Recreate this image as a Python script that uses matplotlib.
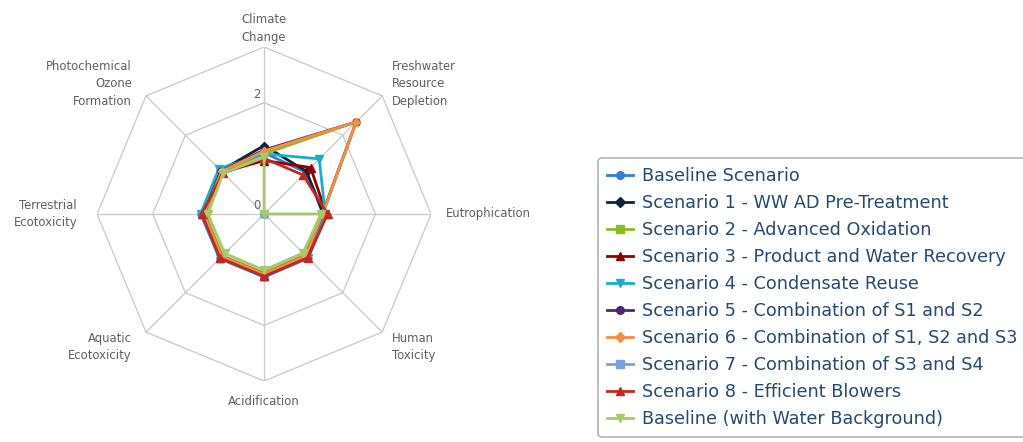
import matplotlib
matplotlib.use("Agg")
import matplotlib.pyplot as plt
from matplotlib.lines import Line2D
import numpy as np

# impact categories, clockwise from the top
categories = ["Climate\nChange", "Freshwater\nResource\nDepletion", "Eutrophication",
              "Human\nToxicity", "Acidification", "Aquatic\nEcotoxicity",
              "Terrestrial\nEcotoxicity", "Photochemical\nOzone\nFormation"]

series_names = ["Baseline Scenario",
                "Scenario 1 - WW AD Pre-Treatment",
                "Scenario 2 - Advanced Oxidation",
                "Scenario 3 - Product and Water Recovery",
                "Scenario 4 - Condensate Reuse",
                "Scenario 5 - Combination of S1 and S2",
                "Scenario 6 - Combination of S1, S2 and S3",
                "Scenario 7 - Combination of S3 and S4",
                "Scenario 8 - Efficient Blowers",
                "Baseline (with Water Background)"]

baseline   = [1.10, 1.06, 1.10, 1.12, 1.13, 1.13, 1.13, 1.13]
scenario_1 = [1.23, 1.08, 1.06, 1.08, 1.10, 1.10, 1.10, 1.10]
scenario_2 = [1.08, 2.34, 1.04, 1.04, 1.06, 1.06, 1.06, 1.07]
scenario_3 = [0.96, 1.18, 1.12, 1.10, 1.12, 1.12, 1.10, 1.06]
scenario_4 = [1.08, 1.40, 1.10, 1.12, 1.13, 1.13, 1.14, 1.15]
scenario_5 = [1.15, 2.34, 1.05, 1.06, 1.08, 1.08, 1.08, 1.09]
scenario_6 = [1.13, 2.34, 1.05, 1.06, 1.08, 1.08, 1.08, 1.08]
scenario_7 = [0, 0, 0, 0, 0, 0, 0, 0]
scenario_8 = [1.00, 0.99, 1.14, 1.11, 1.12, 1.12, 1.12, 1.04]
baseline_w = [1.02, 0.00, 1.02, 0.99, 1.01, 1.00, 1.01, 1.04]

values = [baseline, scenario_1, scenario_2, scenario_3, scenario_4,
          scenario_5, scenario_6, scenario_7, scenario_8, baseline_w]

colors = ["#2f7ed8", "#0d233a", "#8bbc21", "#910000", "#1aadce",
          "#492970", "#f28f43", "#77a1e5", "#c42525", "#a6c96a"]
markers = ["o", "D", "s", "^", "v", "o", "D", "s", "^", "v"]
msizes = [5, 4.2, 4.6, 5.4, 5.4, 5, 4.2, 4.6, 5.4, 5.4]

rmax = 3
rings = [2, 3]

n = len(categories)
angles = np.arange(n) * 2 * np.pi / n


def to_xy(r, a):
    r = np.asarray(r, dtype=float)
    return r * np.sin(a), r * np.cos(a)


fig = plt.figure(figsize=(10.23, 4.42), dpi=100)
ax = fig.add_axes([0.0949, 0.1380, 0.3265, 0.7557])
ax.set_xlim(-rmax, rmax)
ax.set_ylim(-rmax, rmax)
ax.axis("off")

grid_col = "#cccccc"
closed = np.append(angles, angles[0])
for r in rings:
    gx, gy = to_xy(np.full(len(closed), r), closed)
    ax.plot(gx, gy, color=grid_col, lw=1, zorder=1)
for a in angles:
    sx, sy = to_xy([0, rmax], a)
    ax.plot(sx, sy, color=grid_col, lw=1, zorder=1)

# radial tick labels
ax.annotate("0", (0, 0), xytext=(-3, 2), textcoords="offset pixels",
            ha="right", va="bottom", fontsize=8.5, color="#666666")
ax.annotate("2", (0, 2), xytext=(-3, 2), textcoords="offset pixels",
            ha="right", va="bottom", fontsize=8.5, color="#666666")

# category labels (offsets in pixels)
offsets = [(0, 3), (10, 12), (15, 0), (10, -15), (0, -20), (-14, -15), (-20, 0), (-14, 12)]
for i, (lab, a, off) in enumerate(zip(categories, angles, offsets)):
    x, y = to_xy(rmax, a)
    if off[0] > 0:
        ha = "left"
    elif off[0] < 0:
        ha = "right"
    else:
        ha = "center"
    va = "bottom" if i == 0 else "center"
    ax.annotate(lab, (x, y), xytext=off, textcoords="offset pixels",
                ha=ha, va=va, multialignment=ha, fontsize=8.4,
                color="#606060", linespacing=1.45, annotation_clip=False)

handles = []
for name, vals, c, m, ms in zip(series_names, values, colors, markers, msizes):
    vx, vy = to_xy(np.append(vals, vals[0]), closed)
    ax.plot(vx, vy, color=c, lw=2, marker=m, markersize=ms,
            markevery=list(range(n)), zorder=3, clip_on=False)
    handles.append(Line2D([], [], color=c, lw=2, marker=m, markersize=ms + 0.5))

leg = fig.legend(handles, series_names, loc="upper left",
                 bbox_to_anchor=(598 / 1023, 1 - 158 / 442),
                 frameon=True, fancybox=True, fontsize=12.7,
                 handlelength=1.5, handletextpad=0.5, labelspacing=0.51,
                 borderpad=0.5, borderaxespad=0, labelcolor="#274b6d")
leg.get_frame().set_edgecolor("#a0a0a0")
leg.get_frame().set_linewidth(1.2)

fig.savefig("out.png", dpi=100)
